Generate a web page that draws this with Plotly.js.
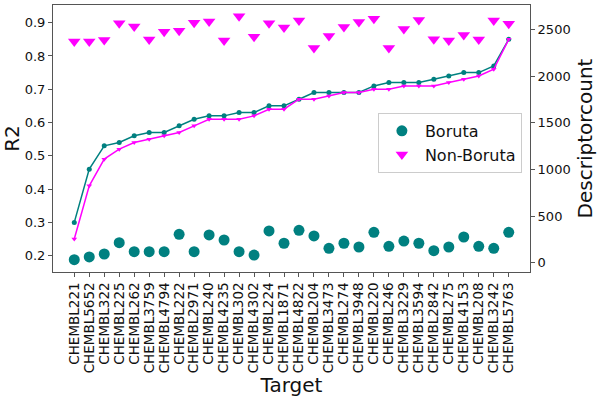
<!DOCTYPE html>
<html>
<head>
<meta charset="utf-8">
<script src="https://cdn.plot.ly/plotly-3.0.1.min.js"></script>
<style>html,body{margin:0;padding:0;background:#fff;}#chart{width:600px;height:397px;}</style>
</head>
<body>
<div id="chart"></div>
<script>
const targets = ["CHEMBL221","CHEMBL5652","CHEMBL322","CHEMBL225","CHEMBL262","CHEMBL3759","CHEMBL4794","CHEMBL222","CHEMBL2971","CHEMBL240",
  "CHEMBL4235","CHEMBL302","CHEMBL4302","CHEMBL224","CHEMBL1871","CHEMBL4822","CHEMBL204","CHEMBL3473","CHEMBL274","CHEMBL3948",
  "CHEMBL220","CHEMBL246","CHEMBL3229","CHEMBL3594","CHEMBL2842","CHEMBL275","CHEMBL4153","CHEMBL208","CHEMBL3242","CHEMBL5763"];
const r2Boruta = [0.30,0.46,0.53,0.54,0.56,0.57,0.57,0.59,0.61,0.62,
  0.62,0.63,0.63,0.65,0.65,0.67,0.69,0.69,0.69,0.69,
  0.71,0.72,0.72,0.72,0.73,0.74,0.75,0.75,0.77,0.85];
const r2NonBoruta = [0.25,0.41,0.49,0.52,0.54,0.55,0.56,0.57,0.59,0.61,
  0.61,0.61,0.62,0.64,0.64,0.67,0.67,0.68,0.69,0.69,
  0.70,0.70,0.71,0.71,0.71,0.72,0.73,0.74,0.76,0.85];
const countBoruta = [32,61,93,214,118,118,118,304,118,297,
  243,118,82,340,208,347,286,154,208,168,
  325,175,232,208,129,168,275,175,154,325];
const countNonBoruta = [2370,2370,2385,2565,2530,2390,2475,2485,2570,2585,
  2380,2640,2420,2565,2520,2595,2300,2430,2525,2580,
  2615,2300,2505,2600,2395,2380,2440,2390,2595,2560];

const teal = '#008080';
const magenta = '#ff00ff';
const lineCol = '#555555';

const traces = [
  {x: targets, y: r2Boruta, type: 'scatter', mode: 'lines+markers', showlegend: false,
   line: {color: teal, width: 1.5}, marker: {color: teal, size: 5, symbol: 'circle'}, yaxis: 'y'},
  {x: targets, y: r2NonBoruta, type: 'scatter', mode: 'lines+markers', showlegend: false,
   line: {color: magenta, width: 1.5}, marker: {color: magenta, size: 5, symbol: 'triangle-down'}, yaxis: 'y'},
  {x: targets, y: countBoruta, type: 'scatter', mode: 'markers', name: 'Boruta',
   marker: {color: teal, size: 11, symbol: 'circle'}, yaxis: 'y2'},
  {x: targets, y: countNonBoruta, type: 'scatter', mode: 'markers', name: 'Non-Boruta',
   marker: {color: magenta, size: 11, symbol: 'triangle-down'}, yaxis: 'y2'}
];

const font = {family: 'DejaVu Sans, sans-serif', color: '#111'};

const layout = {
  width: 600, height: 397,
  margin: {l: 53, r: 70, t: 5, b: 125, pad: 0},
  paper_bgcolor: '#fff', plot_bgcolor: '#fff',
  font: font,
  showlegend: true,
  legend: {x: 0.983, y: 0.596, xanchor: 'right', yanchor: 'top',
    bgcolor: 'rgba(255,255,255,0.9)', bordercolor: '#cccccc', borderwidth: 1,
    tracegroupgap: 0, itemwidth: 36,
    font: {family: 'DejaVu Sans, sans-serif', size: 16, color: '#111'}},
  xaxis: {
    type: 'category', range: [-1.42, 30.42],
    tickmode: 'array', tickvals: targets, ticktext: targets,
    showgrid: false, zeroline: false,
    showline: true, linecolor: lineCol, linewidth: 1, mirror: true,
    ticks: 'outside', ticklen: 4, tickcolor: lineCol, tickangle: -90,
    tickfont: {family: 'DejaVu Sans, sans-serif', size: 13.5, color: '#111'},
    title: {text: 'Target', font: {family: 'DejaVu Sans, sans-serif', size: 20, color: '#111'}, standoff: 6}
  },
  yaxis: {
    range: [0.151, 0.953], tickvals: [0.2,0.3,0.4,0.5,0.6,0.7,0.8,0.9],
    ticktext: ['0.2','0.3','0.4','0.5','0.6','0.7','0.8','0.9'],
    showgrid: false, zeroline: false,
    showline: true, linecolor: lineCol, linewidth: 1,
    ticks: 'outside', ticklen: 4, tickcolor: lineCol,
    tickfont: {family: 'DejaVu Sans, sans-serif', size: 13, color: '#111'},
    title: {text: 'R2', font: {family: 'DejaVu Sans, sans-serif', size: 20, color: '#111'}, standoff: 4}
  },
  yaxis2: {
    overlaying: 'y', side: 'right',
    range: [-100, 2761], tickvals: [0,500,1000,1500,2000,2500],
    showgrid: false, zeroline: false,
    showline: true, linecolor: lineCol, linewidth: 1,
    ticks: 'outside', ticklen: 4, tickcolor: lineCol,
    tickfont: {family: 'DejaVu Sans, sans-serif', size: 13, color: '#111'},
    title: {text: 'Descriptorcount', font: {family: 'DejaVu Sans, sans-serif', size: 20, color: '#111'}, standoff: 8}
  }
};

Plotly.newPlot('chart', traces, layout, {displayModeBar: false, staticPlot: true});
</script>
</body>
</html>
